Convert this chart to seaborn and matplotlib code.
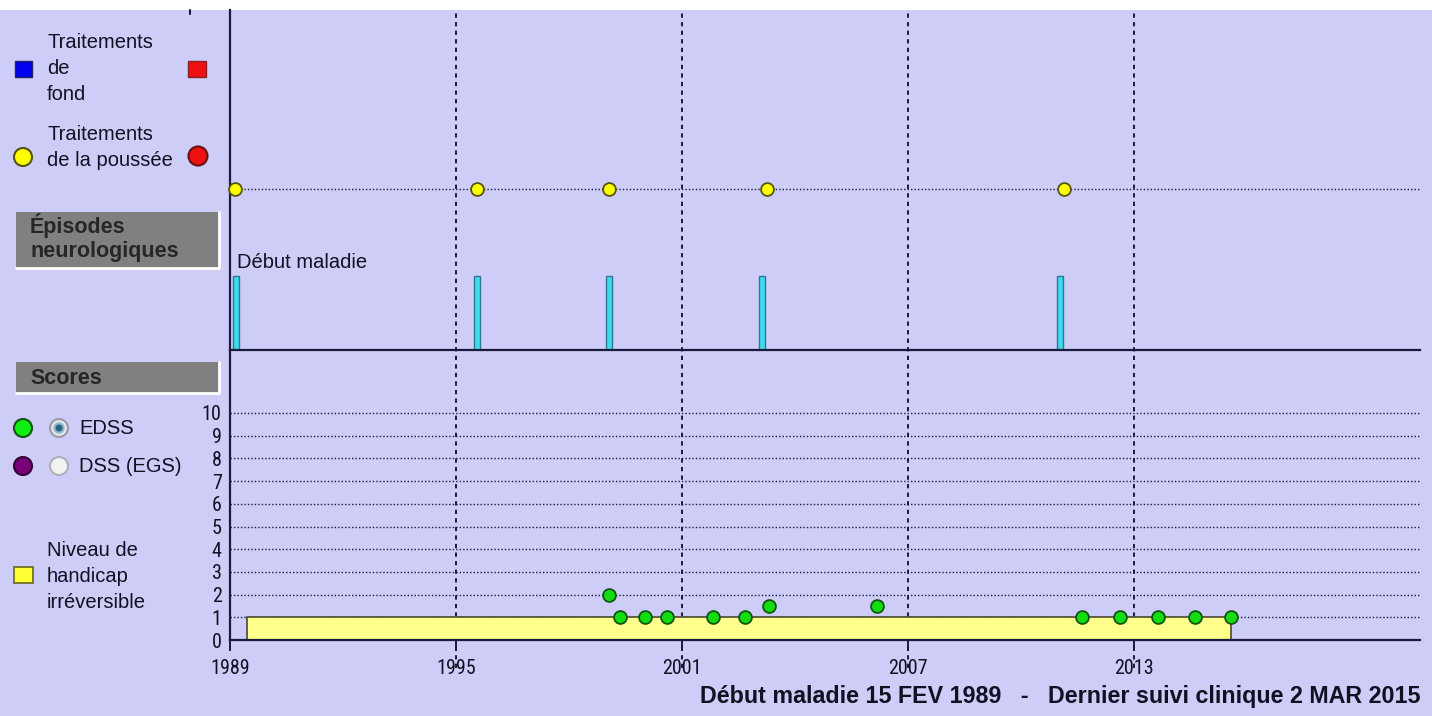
import numpy as np
import pandas as pd
import seaborn as sns
import matplotlib.pyplot as plt
from matplotlib import font_manager as fm
from matplotlib.patches import Rectangle, Circle

# ---- data ----
poussee_dates = [1989.13, 1995.56, 1999.06, 2003.26, 2011.14]
episode_dates = [1989.16, 1995.56, 1999.06, 2003.12, 2011.03]
episode_heights = [1, 1, 1, 1, 1]
edss_dates = [1999.06, 1999.35, 2000.02, 2000.60, 2001.82, 2002.67, 2003.30,
              2006.18, 2011.62, 2012.63, 2013.64, 2014.62, 2015.57]
edss_scores = [2, 1, 1, 1, 1, 1, 1.5, 1.5, 1, 1, 1, 1, 1]
handicap_start = 1989.45
handicap_end = 2015.57
handicap_level = 1
year_ticks = [1989, 1995, 2001, 2007, 2013]
score_ticks = list(range(0, 11))
footer = "Début maladie 15 FEV 1989   -   Dernier suivi clinique 2 MAR 2015"

W, H = 1432, 716
BG = '#cdcdf8'
INK = '#1a1a3c'
TXT = '#111122'

sns.set_style("ticks")
plt.rcParams['font.family'] = ['Liberation Sans', 'DejaVu Sans']


def narrow_font(bold):
    # look for a condensed sans if one is installed, else plain Liberation Sans
    prefs = ['Liberation Sans Narrow', 'Roboto Condensed', 'Open Sans Condensed',
             'DejaVu Sans Condensed']
    for p in prefs:
        for f in fm.fontManager.ttflist:
            w = f.weight if isinstance(f.weight, int) else fm.weight_dict.get(f.weight, 400)
            if f.style != 'normal' or (w >= 600) != bold:
                continue
            if f.name == p or (p == 'DejaVu Sans Condensed' and f.name == 'DejaVu Sans'
                               and f.stretch == 'condensed'):
                return fm.FontProperties(fname=f.fname), True
    return fm.FontProperties(family='Liberation Sans',
                             weight='bold' if bold else 'normal'), False


NARROW, HAVE_NARROW = narrow_font(False)


def rect(x0, y0, x1, y1):
    # pixel box -> figure fraction
    return [x0 / W, 1 - y1 / H, (x1 - x0) / W, (y1 - y0) / H]


X0 = 1989
X1 = 1989 + (1420 - 230) / 37.667

fig = plt.figure(figsize=(W / 100, H / 100), dpi=100, facecolor=BG)

# overlay for the left-hand legend panel (pixel coords)
ov = fig.add_axes([0, 0, 1, 1])
ov.set_xlim(0, W)
ov.set_ylim(H, 0)
ov.axis('off')
ov.add_patch(Rectangle((0, 0), W, 10, fc='white', ec='none'))
ov.plot([190, 190], [10, 14], color=INK, lw=1.5)

fs = 14.5
fsb = 15.5
ov.add_patch(Rectangle((15, 61), 17, 16, fc='#0000ee', ec='#222266', lw=1))
ov.add_patch(Rectangle((188, 61), 18, 16, fc='#ee1111', ec='#882222', lw=1))
for txt, y in [("Traitements", 42), ("de", 69), ("fond", 95)]:
    ov.text(47, y, txt, va='center', ha='left', fontsize=fs, color=TXT)

ov.add_patch(Circle((23, 157), 9, fc='#ffff00', ec='#555511', lw=1.5))
ov.add_patch(Circle((198, 156), 9.5, fc='#ee1111', ec='#661111', lw=1.5))
for txt, y in [("Traitements", 135), ("de la poussée", 161)]:
    ov.text(47, y, txt, va='center', ha='left', fontsize=fs, color=TXT)

# grey header boxes
for (x0, y0, x1, y1) in [(16, 212, 219, 268), (16, 362, 219, 393)]:
    ov.add_patch(Rectangle((x0, y0), x1 - x0, y1 - y0, fc='#808080', ec='none'))
    ov.plot([x0, x1, x1], [y1, y1, y0], color='white', lw=2)
ov.text(30, 226, "Épisodes", va='center', ha='left', fontsize=fsb, fontweight='bold')
ov.text(30, 252, "neurologiques", va='center', ha='left', fontsize=fsb, fontweight='bold')
ov.text(30, 378, "Scores", va='center', ha='left', fontsize=fsb, fontweight='bold')

# score legend
ov.add_patch(Circle((23, 428), 9, fc='#11ee11', ec='#115511', lw=1.5))
ov.add_patch(Circle((59, 428), 9, fc='#e4e4ee', ec='#9a9aaa', lw=1.5))
ov.add_patch(Circle((59, 428), 4.5, fc='#2a6580', ec='#8ab4c8', lw=1.5))
ov.text(79, 428, "EDSS", va='center', ha='left', fontsize=fs, color=TXT)
ov.add_patch(Circle((23, 466), 9, fc='#770077', ec='#330033', lw=1.5))
ov.add_patch(Circle((59, 466), 9, fc='#f2f2f2', ec='#b0b0b8', lw=1.5))
ov.text(79, 466, "DSS (EGS)", va='center', ha='left', fontsize=fs, color=TXT)

ov.add_patch(Rectangle((14, 567), 19, 16, fc='#ffff33', ec='#666622', lw=1.2))
for txt, y in [("Niveau de", 550), ("handicap", 576), ("irréversible", 602)]:
    ov.text(47, y, txt, va='center', ha='left', fontsize=fs, color=TXT)

# vertical dashed year lines
bg = fig.add_axes(rect(230, 10, 1420, 668))
bg.set_xlim(X0, X1)
bg.set_ylim(0, 1)
bg.axis('off')
for yr in year_ticks[1:]:
    bg.axvline(yr, color=INK, ls=(0, (2.2, 2.2)), lw=1.4)

# treatments + neurological episodes
ax_top = fig.add_axes(rect(230, 10, 1420, 350))
ax_top.set_facecolor('none')
ax_top.set_xlim(X0, X1)
ax_top.set_ylim(0, 340 / 74)
treat_row = (350 - 189) / 74
ax_top.axhline(treat_row, color=INK, ls=(0, (1, 1.5)), lw=1, zorder=1)
ax_top.bar(episode_dates, episode_heights, width=0.17, color='#3cdcee',
           edgecolor='#2a7896', lw=1, zorder=2)
sns.scatterplot(x=poussee_dates, y=[treat_row] * len(poussee_dates), ax=ax_top,
                color='#ffff00', edgecolor='#555511', linewidth=1.3, s=85,
                zorder=3, clip_on=False, legend=False)
ax_top.text(episode_dates[0] + 0.03, (350 - 262) / 74, "Début maladie",
            va='center', ha='left', fontsize=fs, color=TXT)
sns.despine(ax=ax_top)
for sp in ['left', 'bottom']:
    ax_top.spines[sp].set_color(INK)
    ax_top.spines[sp].set_linewidth(1.6)
ax_top.set_xticks([])
ax_top.set_yticks([])

# scores panel
ax_sc = fig.add_axes(rect(230, 350, 1420, 640))
ax_sc.set_facecolor('none')
ax_sc.set_xlim(X0, X1)
ax_sc.set_ylim(0, 290 / 22.7)
ax_sc.hlines(score_ticks[1:], X0, X1, color=INK, ls=(0, (1, 1.5)), lw=1, zorder=1)
ax_sc.bar(handicap_start, handicap_level, width=handicap_end - handicap_start,
          align='edge', color='#ffff8c', edgecolor='#4a4a30', lw=1.2, zorder=2)
sns.scatterplot(x=edss_dates, y=edss_scores, ax=ax_sc, color='#11dd11',
                edgecolor='#115511', linewidth=1.3, s=85, zorder=4,
                clip_on=False, legend=False)
sns.despine(ax=ax_sc)
for sp in ['left', 'bottom']:
    ax_sc.spines[sp].set_color(INK)
    ax_sc.spines[sp].set_linewidth(1.6)

tick_fs = 14.5 if HAVE_NARROW else 13.5
tick_prop = NARROW.copy()
tick_prop.set_size(tick_fs)
ax_sc.set_yticks(score_ticks)
ax_sc.set_yticklabels([str(v) for v in score_ticks], fontproperties=tick_prop, color=TXT)
ax_sc.tick_params(axis='y', length=0, pad=6)
ax_sc.set_xticks(year_ticks)
ax_sc.set_xticklabels([str(v) for v in year_ticks], fontproperties=tick_prop, color=TXT)
ax_sc.tick_params(axis='x', length=8, width=1.4, color=INK, pad=6)

foot_prop = fm.FontProperties(family='Liberation Sans', weight='bold', size=15)
ft = fig.text(1420 / W, 1 - 697 / H, footer, ha='right', va='center',
              fontproperties=foot_prop, color=TXT)
# scale footer so that it spans the same width as in the reference
fig.canvas.draw()
wpx = ft.get_window_extent(fig.canvas.get_renderer()).width
foot_prop.set_size(15 * 723 / wpx)
ft.set_fontproperties(foot_prop)

fig.savefig('out.png', dpi=100, facecolor=BG)
